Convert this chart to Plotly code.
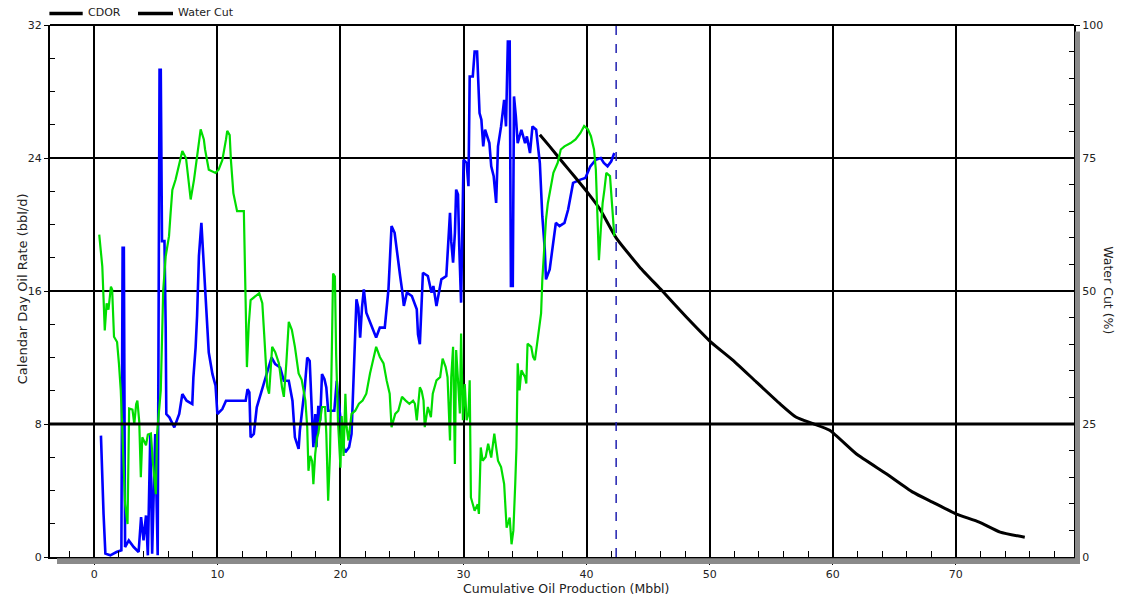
import plotly.graph_objects as go

# Calendar-day oil rate history (bbl/d) vs cumulative oil (Mbbl)
rate_cum = [0.54, 0.62, 0.75, 0.9, 1.3, 1.8, 2.2, 2.3, 2.4, 2.5, 2.8, 3.2, 3.6, 3.8, 4.0, 4.2, 4.35,
            4.55, 4.7, 4.95, 5.15, 5.3, 5.4, 5.5, 5.7, 5.8, 5.85, 6.1, 6.5, 6.9, 7.15, 7.5, 7.96,
            8.05, 8.23, 8.35, 8.45, 8.5, 8.7, 8.85, 9.0, 9.15, 9.3, 9.6, 9.85, 10.0, 10.4, 10.7,
            11.5, 12.3, 12.45, 12.6, 12.7, 12.96, 13.2, 13.6, 14.0, 14.4, 14.7, 15.1, 15.4, 15.8,
            16.1, 16.3, 16.6, 16.7, 17.1, 17.3, 17.5, 17.7, 17.8, 17.95, 18.05, 18.2, 18.35, 18.5,
            18.7, 18.85, 19.0, 19.5, 19.7, 19.8, 20.1, 20.25, 20.4, 20.7, 20.9, 21.05, 21.2, 21.3,
            21.45, 21.6, 21.75, 21.9, 22.1, 22.5, 22.9, 23.2, 23.6, 23.9, 24.15, 24.4, 24.7, 24.85,
            25.0, 25.15, 25.4, 25.8, 26.2, 26.3, 26.45, 26.7, 27.1, 27.4, 27.55, 27.8, 28.2, 28.6,
            28.9, 29.0, 29.15, 29.3, 29.4, 29.55, 29.65, 29.8, 30.0, 30.25, 30.4, 30.5, 30.75,
            30.9, 31.1, 31.3, 31.45, 31.6, 31.75, 31.9, 32.1, 32.25, 32.45, 32.65, 32.8, 33.05,
            33.3, 33.45, 33.6, 33.75, 33.85, 34.0, 34.1, 34.25, 34.4, 34.7, 35.0, 35.15, 35.4,
            35.6, 35.9, 36.2, 36.4, 36.6, 36.7, 37.0, 37.25, 37.5, 37.8, 38.2, 38.5, 38.7, 38.9,
            39.5, 39.9, 40.3, 40.75, 41.15, 41.4, 41.7, 42.0, 42.25]
rate_bpd = [7.3, 4.9, 2.6, 0.2, 0.1, 0.3, 0.4, 18.6, 18.6, 0.6, 1.0, 0.6, 0.3, 2.4, 1.0, 2.5, 0.1,
            7.4, 0.2, 7.4, 0.1, 29.3, 29.3, 19.0, 19.0, 13.8, 8.6, 8.4, 7.8, 8.6, 9.8, 9.4, 9.2,
            10.8, 12.6, 14.5, 16.4, 18.1, 20.1, 18.1, 16.2, 14.2, 12.3, 11.0, 10.3, 8.6, 8.9, 9.4,
            9.4, 9.4, 10.1, 9.9, 7.2, 7.4, 9.0, 10.0, 11.0, 12.0, 11.6, 11.4, 10.6, 10.6,
            9.4, 7.2, 6.5, 7.6, 10.2, 12.0, 11.8, 8.8, 6.6, 8.6, 6.6, 9.1, 8.2, 11.0,
            10.7, 10.2, 8.8, 8.8, 10.6, 9.7, 7.8, 6.6, 6.3, 6.6, 7.4, 10.6, 12.8, 15.5,
            15.0, 13.2, 15.0, 16.1, 14.7, 14.0, 13.2, 13.8, 13.8, 16.1, 19.9, 19.5, 17.5, 16.9,
            16.1, 15.1, 15.9, 15.7, 14.9, 13.4, 12.8, 17.1, 16.9, 15.9, 16.3, 15.1, 16.7, 16.9,
            20.7, 19.0, 17.7, 19.5, 22.1, 21.8, 18.7, 15.3, 23.9, 23.7, 22.3, 28.9, 28.9,
            30.4, 30.4, 26.7, 26.3, 24.7, 25.7, 25.3, 24.9, 23.5, 22.9, 21.3, 24.7, 25.9,
            27.5, 25.9, 31.0, 31.0, 16.3, 16.3, 27.7, 26.5, 24.9, 25.7, 24.9, 25.3, 24.3,
            25.9, 25.7, 23.7, 20.5, 18.5, 16.7, 17.3, 18.7, 20.1, 19.9, 20.1, 20.9, 21.7, 22.5,
            22.7, 22.8, 23.5, 23.9, 24.0, 23.7, 23.5, 23.8, 24.3]

# Water cut history (%)
wc_cum = [0.4, 0.65, 0.75, 0.85, 1.0, 1.15, 1.35, 1.45, 1.6, 1.85, 2.0, 2.15, 2.5, 2.7, 2.83, 3.1,
          3.25, 3.4, 3.5, 3.65, 3.78, 3.9, 4.2, 4.35, 4.6, 4.75, 5.0, 5.1, 5.4, 5.5, 5.6, 5.8,
          6.07, 6.2, 6.34, 6.6, 6.9, 7.15, 7.45, 7.7, 7.83, 8.1, 8.37, 8.64, 8.9, 9.0, 9.3, 9.85,
          10.1, 10.4, 10.7, 10.8, 11.0, 11.1, 11.3, 11.6, 12.15, 12.3, 12.4, 12.55, 12.7, 13.4,
          13.65, 13.8, 13.95, 14.05, 14.2, 14.35, 14.45, 14.7, 15.0, 15.25, 15.4, 15.6, 15.8,
          16.05, 16.3, 16.6, 16.85, 17.15, 17.3, 17.4, 17.55, 17.7, 17.8, 17.95, 18.1, 18.2,
          18.5, 18.75, 18.85, 19.0, 19.15, 19.3, 19.4, 19.55, 19.65, 19.8, 20.0, 20.1, 20.25,
          20.4, 20.5, 20.65, 20.9, 21.2, 21.5, 21.8, 22.1, 22.4, 22.7, 22.9, 23.2, 23.5, 23.75,
          24.0, 24.15, 24.45, 24.7, 25.0, 25.3, 25.6, 25.9, 26.05, 26.2, 26.45, 26.6, 26.75,
          26.85, 27.1, 27.35, 27.5, 27.8, 28.1, 28.3, 28.55, 28.7, 28.9, 29.0, 29.15, 29.3,
          29.4, 29.55, 29.7, 29.8, 29.95, 30.1, 30.25, 30.4, 30.5, 30.6, 30.9, 31.15, 31.25,
          31.4, 31.55, 31.8, 32.0, 32.25, 32.5, 32.65, 32.8, 33.05, 33.3, 33.5, 33.75, 33.9,
          34.05, 34.2, 34.3, 34.4, 34.55, 34.7, 35.0, 35.1, 35.2, 35.5, 35.65, 35.8, 36.0,
          36.3, 36.4, 36.55, 36.7, 36.85, 37.1, 37.3, 37.65, 37.9, 38.2, 38.7, 39.1, 39.5,
          39.8, 40.1, 40.35, 40.6, 40.75, 40.9, 41.0, 41.15, 41.3, 41.45, 41.6, 41.9, 42.05,
          42.15, 42.25]
wc_pct = [60.6, 54.6, 48.7, 42.6, 47.7, 46.5, 50.8, 50.3, 41.4, 40.4, 36.4, 31.3, 10.0, 6.2, 27.9, 27.7,
          25.0, 28.7, 29.4, 25.5, 15.0, 22.5, 21.0, 23.0, 23.2, 18.0, 11.8, 23.2, 31.3, 42.0, 50.2, 56.5,
          60.3, 64.7, 69.0, 70.9, 74.1, 76.3, 75.0, 70.3, 67.2, 70.9, 76.0, 80.4, 78.5, 76.6, 72.8, 72.2,
          72.8, 74.6, 78.5, 80.1, 79.3, 74.6, 68.4, 65.0, 65.0, 50.2, 35.7, 43.7, 48.3, 49.6,
          47.7, 42.0, 36.4, 32.0, 30.7, 35.7, 39.5, 38.5, 36.4, 31.9, 30.1, 36.4, 44.2,
          42.7, 39.5, 34.5, 33.3, 29.4, 24.4, 16.2, 19.0, 18.0, 13.7, 19.4, 22.5, 23.2,
          28.2, 28.2, 23.2, 10.6, 19.4, 38.9, 53.3, 52.7, 38.0, 25.5, 16.8, 26.5, 19.0,
          30.7, 24.4, 21.9, 26.9, 27.5, 28.8, 29.4, 30.7, 34.5, 37.6, 39.5, 37.6, 36.4, 33.2,
          30.7, 24.4, 26.9, 27.5, 30.1, 29.4, 28.8, 29.4, 28.8, 25.7, 31.9, 31.2, 29.4,
          24.4, 28.2, 26.3, 30.7, 33.2, 33.8, 37.3, 35.7, 33.8, 21.9, 33.8, 39.5, 17.5,
          38.9, 33.2, 27.0, 42.0, 25.7, 32.5, 25.7, 26.9, 33.2, 11.2, 8.7, 9.9, 8.1,
          20.6, 18.1, 18.8, 21.3, 18.7, 23.2, 20.6, 18.1, 16.9, 13.7, 5.5, 7.4, 2.4,
          5.0, 13.7, 20.6, 36.4, 31.3, 35.1, 33.8, 32.6, 40.1, 39.5, 37.6, 37.0, 40.8,
          45.8, 52.1, 57.7, 63.4, 66.5, 69.7, 72.2, 74.1, 76.6, 77.2, 77.8, 78.5, 79.7,
          81.0, 80.4, 79.1, 76.6, 72.8, 61.5, 55.8, 61.5, 66.5, 69.1, 72.2, 71.6, 66.5,
          64.0, 60.3]

# Forecast oil-rate decline (bbl/d)
fc_cum = [36.2, 37.0, 38.1, 39.0, 40.1, 41.1, 42.4, 44.3, 46.1, 48.1, 50.1, 51.9, 53.8, 55.7,
          57.0, 58.4, 59.75, 61.9, 64.35, 66.5, 68.1, 70.0, 71.9, 73.6, 75.6]
fc_rate = [25.4, 24.7, 23.7, 22.9, 21.9, 20.9, 19.2, 17.45, 16.04, 14.44, 12.93, 11.83, 10.52,
           9.22, 8.42, 8.02, 7.62, 6.21, 5.01, 3.9, 3.3, 2.6, 2.1, 1.5, 1.19]

# End of history
history_end = 42.4
# Reference rate level
rate_limit = 8

x_ticks = [0, 10, 20, 30, 40, 50, 60, 70]
y_ticks = [0, 8, 16, 24, 32]
wc_ticks = [0, 25, 50, 75, 100]

FONT = "DejaVu Sans, Verdana, sans-serif"
TXT = "#222222"

fig = go.Figure()
fig.add_trace(go.Scatter(x=wc_cum, y=wc_pct, yaxis="y2", mode="lines",
                         line=dict(color="#00dd00", width=2.2), name="Water Cut", showlegend=False))
fig.add_trace(go.Scatter(x=rate_cum, y=rate_bpd, mode="lines",
                         line=dict(color="#0000ff", width=2.6), name="CDOR", showlegend=False))
fig.add_trace(go.Scatter(x=fc_cum, y=fc_rate, mode="lines",
                         line=dict(color="black", width=3, shape="spline", smoothing=0.5),
                         name="Forecast", showlegend=False))

axis_common = dict(showline=True, linecolor="black", linewidth=2, zeroline=False,
                   tickfont=dict(family=FONT, size=11, color=TXT))

fig.update_layout(
    width=1123, height=595,
    margin=dict(l=50, r=49, t=25, b=38),
    paper_bgcolor="white", plot_bgcolor="white",
    showlegend=False,
    xaxis=dict(range=[-3.6, 79.6], tickvals=x_ticks, showgrid=True, gridcolor="black",
               gridwidth=1.5, ticks="outside", ticklen=6, tickcolor="black",
               minor=dict(tick0=0, dtick=2, ticks="inside", ticklen=6, tickcolor="black",
                          showgrid=False),
               **axis_common),
    yaxis=dict(range=[0, 32], tickvals=y_ticks, showgrid=True, gridcolor="black",
               gridwidth=1.5, ticks="outside", ticklen=4, tickcolor="black",
               minor=dict(tick0=0, dtick=2, ticks="inside", ticklen=5, tickcolor="black",
                          showgrid=False),
               **axis_common),
    yaxis2=dict(range=[0, 100], tickvals=wc_ticks, overlaying="y", side="right",
                showgrid=False, ticks="outside", ticklen=4, tickcolor="black",
                minor=dict(tick0=0, dtick=5, ticks="inside", ticklen=5, tickcolor="black"),
                **axis_common),
)

shapes = [
    # top border
    dict(type="line", xref="paper", yref="paper", x0=0, x1=1, y0=1, y1=1,
         line=dict(color="black", width=2)),
    # rate limit line
    dict(type="line", xref="paper", yref="y", x0=0, x1=1, y0=rate_limit, y1=rate_limit,
         line=dict(color="black", width=3)),
    # end of history marker
    dict(type="line", xref="x", yref="paper", x0=history_end, x1=history_end, y0=0, y1=1,
         line=dict(color="#2020b0", width=1.5, dash="dash")),
    # drop shadow under the x axis and beside the right axis
    dict(type="rect", xref="paper", yref="paper", x0=7 / 1024, x1=1030 / 1024,
         y0=-7 / 531.5, y1=-1.2 / 531.5, line=dict(width=0), fillcolor="#8a8a8a"),
    dict(type="rect", xref="paper", yref="paper", x0=1025 / 1024, x1=1030 / 1024,
         y0=-7 / 531.5, y1=525 / 531.5, line=dict(width=0), fillcolor="#8a8a8a"),
    # legend keys
    dict(type="line", xref="paper", yref="paper", x0=-0.6 / 1024, x1=32.7 / 1024,
         y0=1 + 11.5 / 531.5, y1=1 + 11.5 / 531.5, line=dict(color="black", width=3.5)),
    dict(type="line", xref="paper", yref="paper", x0=88 / 1024, x1=123 / 1024,
         y0=1 + 11.5 / 531.5, y1=1 + 11.5 / 531.5, line=dict(color="black", width=3.5)),
]
fig.update_layout(shapes=shapes)

title_font = dict(family=FONT, size=12.5, color=TXT)
legend_font = dict(family=FONT, size=11, color=TXT)
fig.update_layout(annotations=[
    dict(text="CDOR", xref="paper", yref="paper", x=36 / 1024, y=1 + 12 / 531.5,
         xanchor="left", yanchor="middle", showarrow=False, font=legend_font),
    dict(text="Water Cut", xref="paper", yref="paper", x=126 / 1024, y=1 + 12 / 531.5,
         xanchor="left", yanchor="middle", showarrow=False, font=legend_font),
    dict(text="Cumulative Oil Production (Mbbl)", xref="paper", yref="paper", x=516 / 1024,
         y=-31 / 531.5, xanchor="center", yanchor="middle", showarrow=False, font=title_font),
    dict(text="Calendar Day Oil Rate (bbl/d)", xref="paper", yref="paper", x=-28 / 1024,
         y=(556.5 - 289) / 531.5, xanchor="center", yanchor="middle", textangle=-90,
         showarrow=False, font=dict(family=FONT, size=13, color=TXT)),
    dict(text="Water Cut (%)", xref="paper", yref="paper", x=1059 / 1024,
         y=(556.5 - 290) / 531.5, xanchor="center", yanchor="middle", textangle=90,
         showarrow=False, font=title_font),
])

fig.write_html("out.html")
